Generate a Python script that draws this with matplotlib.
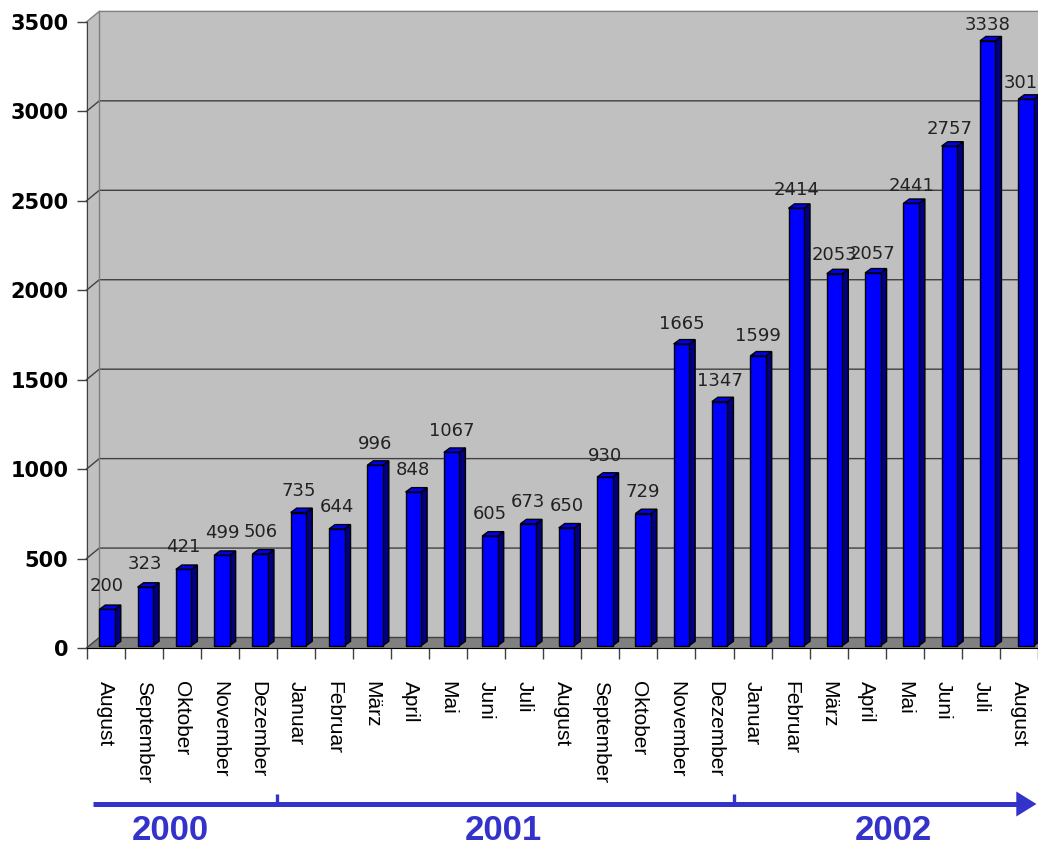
import numpy as np
import matplotlib
matplotlib.use('Agg')
import matplotlib.pyplot as plt
from matplotlib.patches import Polygon
from matplotlib.transforms import blended_transform_factory

# monthly values, Aug 2000 - Aug 2002
months = ['August', 'September', 'Oktober', 'November', 'Dezember',
          'Januar', 'Februar', 'März', 'April', 'Mai', 'Juni', 'Juli',
          'August', 'September', 'Oktober', 'November', 'Dezember',
          'Januar', 'Februar', 'März', 'April', 'Mai', 'Juni', 'Juli', 'August']
values = [200, 323, 421, 499, 506,
          735, 644, 996, 848, 1067, 605, 673, 650, 930, 729, 1665, 1347,
          1599, 2414, 2053, 2057, 2441, 2757, 3338, 3016]
years = ['2000', '2001', '2002']
year_starts = [0, 5, 17]          # index of the first month of each year
year_label_x = [2.2, 10.95, 21.2]  # label centres along the arrow

W, H = 1038, 843
left_px, zero_px, top_px = 86.5, 648, 21.9
cat_px = 38.1
ymax = 3500
n = len(values)

fig = plt.figure(figsize=(W / 100, H / 100), dpi=100)
rect = [left_px / W, (H - zero_px) / H, (W - left_px) / W, (zero_px - top_px) / H]
ax = fig.add_axes(rect)
ax.set_xlim(0, (W - left_px) / cat_px)
ax.set_ylim(0, ymax)
ax.patch.set_visible(False)

# 3D walls
dx = 12.8 / cat_px
dy = 10.5 * ymax / (zero_px - top_px)
xr = n + 1
wall = '#C0C0C0'
ax.add_patch(Polygon([(dx, dy), (xr, dy), (xr, ymax + dy), (dx, ymax + dy)],
                     closed=True, fc=wall, ec='none', clip_on=False, zorder=0))
ax.add_patch(Polygon([(0, 0), (dx, dy), (dx, ymax + dy), (0, ymax)],
                     closed=True, fc=wall, ec='none', clip_on=False, zorder=0))
ax.add_patch(Polygon([(0, 0), (dx, dy), (xr, dy), (xr, 0)],
                     closed=True, fc='#808080', ec='none', clip_on=False, zorder=0.5))
yticks = np.arange(0, ymax + 1, 500)
for v in yticks:
    c = '#808080' if v == ymax else '#404040'
    ax.plot([0, dx, xr], [v, v + dy, v + dy], color=c, lw=1, clip_on=False, zorder=1)
ax.plot([dx, dx], [dy, ymax + dy], color='#808080', lw=1, clip_on=False, zorder=1)

# axes, ticks
for s in ['top', 'right']:
    ax.spines[s].set_visible(False)
ax.spines['left'].set_color('#404040')
ax.spines['bottom'].set_color('black')
ax.set_yticks(yticks)
ax.set_yticklabels([str(v) for v in yticks], fontsize=15, fontweight='bold')
ax.tick_params(axis='y', length=7.5, width=1, color='#404040', pad=5.5)
ax.set_xticks(np.arange(0, n + 1))
ax.set_xticklabels([])
ax.set_xticks(np.arange(n) + 0.5, minor=True)
ax.set_xticklabels(months, minor=True, rotation=270, fontsize=15,
                   family='Liberation Sans')
ax.tick_params(axis='x', which='major', length=8, width=1, color='#404040')
ax.tick_params(axis='x', which='minor', length=0, pad=24)

# bars (own scale, slight perspective)
bar_pitch = 38.29
bar_origin = 87.9
bar_base_px = 645.7
bar_scale = 0.1812
axb = fig.add_axes(rect, label='bars')
axb.set_zorder(2)
axb.patch.set_visible(False)
axb.axis('off')
axb.set_xlim((left_px - bar_origin) / bar_pitch, (W - bar_origin) / bar_pitch)
axb.set_ylim((bar_base_px - zero_px) / bar_scale, (bar_base_px - top_px) / bar_scale)

x = np.arange(n) + 0.5
bw = 0.405
sx = 6.0 / bar_pitch
sy = 4.4 / bar_scale
axb.bar(x, values, width=bw, color='#0000FF', edgecolor='black', lw=1, zorder=3)
for xi, v in zip(x, values):
    xa, xb = xi - bw / 2, xi + bw / 2
    axb.add_patch(Polygon([(xb, 0), (xb + sx, sy), (xb + sx, v + sy), (xb, v)],
                          closed=True, fc='#000080', ec='black', lw=1, zorder=2))
    axb.add_patch(Polygon([(xa, v), (xa + sx, v + sy), (xb + sx, v + sy), (xb, v)],
                          closed=True, fc='#0000EE', ec='black', lw=1, zorder=2))

trans = blended_transform_factory(axb.transData, ax.transData)
for xi, v in zip(x, values):
    axb.annotate(str(v), xy=(xi, v), xycoords=trans, xytext=(0, 15),
                 textcoords='offset points', ha='center', va='baseline',
                 fontsize=13, color='#222222', annotation_clip=False)

# year arrow
blue = '#3333CC'
tr = ax.get_xaxis_transform()
ay = (zero_px - 804) / (zero_px - top_px)
head_h = 12.5 / (zero_px - top_px)
ax.plot([0.16, 24.5], [ay, ay], color=blue, lw=3.6, solid_capstyle='butt',
        transform=tr, clip_on=False)
ax.add_patch(Polygon([(24.43, ay - head_h), (24.96, ay), (24.43, ay + head_h)],
                     closed=True, fc=blue, ec='none', transform=tr, clip_on=False))
tick_h = 10 / (zero_px - top_px)
for s in year_starts[1:]:
    ax.plot([s, s], [ay, ay + tick_h], color=blue, lw=2.4, solid_capstyle='butt',
            transform=tr, clip_on=False)
yb = (zero_px - 840) / (zero_px - top_px)
for xl, yr in zip(year_label_x, years):
    ax.text(xl, yb, yr, transform=tr, ha='center', va='baseline', fontsize=25,
            fontweight='bold', family='Liberation Sans', color=blue)

fig.savefig('out.png', dpi=100)
